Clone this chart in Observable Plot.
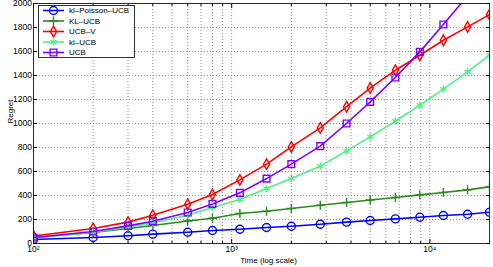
<!DOCTYPE html>
<html><head><meta charset="utf-8">
<script src="https://cdn.jsdelivr.net/npm/d3@7"></script>
<script src="https://cdn.jsdelivr.net/npm/@observablehq/plot@0.6"></script>
<style>
body{margin:0;background:#fff}
#wrap{position:relative;width:493px;height:267px;font-family:"Liberation Sans",Arial,Helvetica,sans-serif}
#legend{position:absolute;left:0;top:0}
</style>
</head><body><div id="wrap"></div>
<script>
const time = [100,200,300,400,600,800,1100,1500,2000,2800,3800,5000,6700,8900,11700,15500,20000];
const klPoissonUCB = [33,50,65,78,94,108,119,133,144,161,178,192,205,219,233,244,261];
const KLUCB = [48,92,125,150,188,211,250,269,292,319,342,363,383,405,425,447,472];
const UCBV = [63,125,178,236,328,408,530,661,805,963,1140,1295,1444,1569,1694,1805,1908];
const klUCB = [50,95,135,172,236,300,367,458,541,644,772,889,1019,1152,1286,1430,1569];
const UCB = [50,100,147,186,258,330,422,541,661,811,1000,1180,1383,1597,1825,2065,2330];

const seriesNames = ["kl–Poisson–UCB","KL–UCB","UCB–V","kl–UCB","UCB"];
const seriesValues = [klPoissonUCB, KLUCB, UCBV, klUCB, UCB];
const seriesColors = ["#0000ff","#2b8a1e","#ff0000","#52ee86","#8000ff"];
const seriesSymbols = ["circle","plus","diamond","asterisk","square"];
const seriesR = [4,3,3.2,3.4,3.8];

const xMajorTicks = [100,1000,10000];
const xMinorTicks = [200,300,400,500,600,700,800,900,2000,3000,4000,5000,6000,7000,8000,9000];
const yTicks = [0,200,400,600,800,1000,1200,1400,1600,1800,2000];
const xLabel = "Time (log scale)";
const yLabel = "Regret";

const rows = [];
seriesNames.forEach((name, i) => time.forEach((t, j) => rows.push({series: name, i, t, v: seriesValues[i][j]})));

const sup = {2:"²",3:"³",4:"⁴"};
const fmt = d => "10" + sup[Math.round(Math.log10(d))];
const none = () => "";

const marks = [
  Plot.gridX(xMajorTicks.concat(xMinorTicks), {stroke:"#777", strokeOpacity:0.8, strokeDasharray:"1,2"}),
  Plot.gridY(yTicks, {stroke:"#777", strokeOpacity:0.8, strokeDasharray:"1,2"}),
  Plot.axisX(xMajorTicks, {anchor:"bottom", tickSize:-4, tickPadding:6, tickFormat: fmt, fontSize:8.5, label:null}),
  Plot.axisX(xMinorTicks, {anchor:"bottom", tickSize:-2, tickFormat: none, label:null}),
  Plot.axisX(xMajorTicks, {anchor:"top", tickSize:-4, tickFormat: none, label:null}),
  Plot.axisX(xMinorTicks, {anchor:"top", tickSize:-2, tickFormat: none, label:null}),
  Plot.axisY(yTicks, {anchor:"left", tickSize:-4, tickPadding:5.5, tickFormat: d => String(d), fontSize:8.5, label:null}),
  Plot.axisY(yTicks, {anchor:"right", tickSize:-4, tickFormat: none, label:null}),
];
seriesNames.forEach((name, i) => {
  const data = rows.filter(d => d.i === i);
  marks.push(Plot.line(data, {x:"t", y:"v", stroke: seriesColors[i], strokeWidth:1.6, clip:true}));
  marks.push(Plot.dot(data, {x:"t", y:"v", stroke: seriesColors[i], fill: seriesSymbols[i]==="asterisk" ? seriesColors[i] : "none", symbol: seriesSymbols[i], r: seriesR[i], strokeWidth:1.4, clip:true}));
});
marks.push(Plot.frame({stroke:"black", strokeWidth:0.8}));
marks.push(Plot.text([yLabel], {text: d=>d, frameAnchor:"left", rotate:-90, dx:-23, fontSize:8}));
marks.push(Plot.text([xLabel], {text: d=>d, frameAnchor:"bottom", dx:7, dy:19, fontSize:8}));

const chart = Plot.plot({
  width:493, height:267,
  marginLeft:33, marginRight:4, marginTop:3, marginBottom:24,
  style:{fontFamily:'"Liberation Sans",Arial,Helvetica,sans-serif', fontSize:"8.5px", background:"#fff", color:"#000"},
  x:{type:"log", domain:[100,20000], label:null},
  y:{domain:[0,2000], label:null},
  marks
});
const wrap = document.getElementById("wrap");
wrap.appendChild(chart);

// legend overlay
const lg = d3.select(wrap).append("svg").attr("id","legend").attr("width",493).attr("height",267)
  .style("font-family",'"Liberation Sans",Arial,Helvetica,sans-serif');
lg.append("rect").attr("x",38.5).attr("y",5.5).attr("width",96).attr("height",52).attr("fill","#fff").attr("stroke","#000").attr("stroke-width",0.8);
const symMap = {circle:d3.symbolCircle, plus:d3.symbolPlus, diamond:d3.symbolDiamond, asterisk:d3.symbolAsterisk, square:d3.symbolSquare};
seriesNames.forEach((name, i) => {
  const y = 10.5 + i*10.5;
  const g = lg.append("g");
  g.append("line").attr("x1",43).attr("x2",64).attr("y1",y).attr("y2",y).attr("stroke",seriesColors[i]).attr("stroke-width",1.6);
  g.append("path").attr("transform",`translate(53.5,${y})`)
    .attr("d", d3.symbol(symMap[seriesSymbols[i]], Math.PI*seriesR[i]*seriesR[i])())
    .attr("fill", seriesSymbols[i]==="asterisk" ? seriesColors[i] : "none")
    .attr("stroke", seriesColors[i]).attr("stroke-width",1.4);
  g.append("text").attr("x",69).attr("y",y).attr("dy","0.35em").attr("font-size","8px").text(name);
});
</script>
</body></html>
